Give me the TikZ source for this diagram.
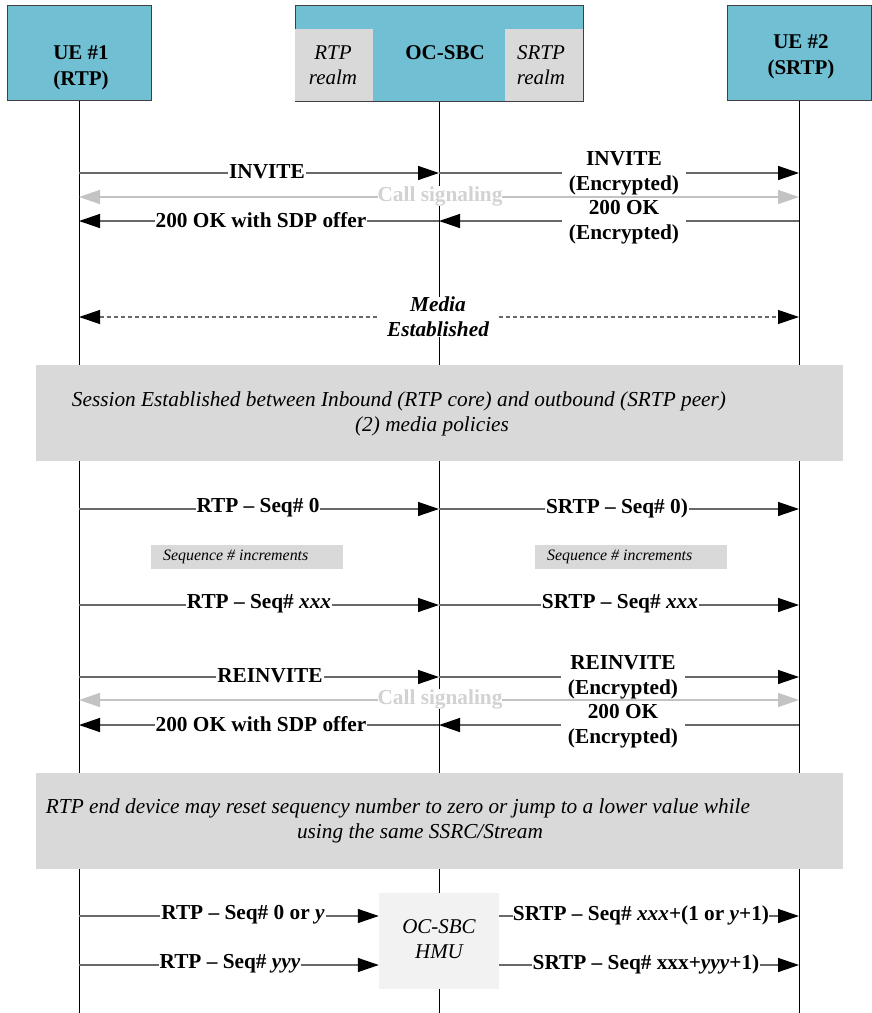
\documentclass[tikz,border=0pt]{standalone}
\usepackage{fontspec}
\setmainfont{Liberation Serif}
\usetikzlibrary{arrows.meta}
\definecolor{hdrblue}{RGB}{113,191,211}
\definecolor{bandgray}{RGB}{217,217,217}
\definecolor{hmugray}{RGB}{242,242,242}
\definecolor{linegray}{RGB}{105,105,105}
\definecolor{siggray}{RGB}{195,195,195}
\definecolor{sigtext}{RGB}{210,210,210}
\begin{document}
\begin{tikzpicture}[x=1pt,y=-1pt,
  hdr/.style={draw=black!75, line width=1pt, fill=hdrblue, inner sep=0pt},
  realm/.style={fill=bandgray, inner sep=0pt, minimum width=78pt, minimum height=72pt},
  htext/.style={font=\bfseries\fontsize{21}{26}\selectfont, align=center, inner sep=0pt},
  rtext/.style={font=\itshape\fontsize{21}{25}\selectfont, align=center, inner sep=0pt},
  life/.style={draw=black, line width=0.9pt},
  msg/.style={draw=linegray, line width=1.4pt, -{Triangle[length=21pt,width=14pt,color=black]}},
  sig/.style={draw=siggray, line width=1.4pt, {Triangle[length=21pt,width=14pt]}-{Triangle[length=21pt,width=14pt]}},
  media/.style={draw=linegray, line width=1.2pt, dash pattern=on 4pt off 3pt, {Triangle[length=21pt,width=14pt,color=black]}-{Triangle[length=21pt,width=14pt,color=black]}},
  lbl/.style={fill=white, inner xsep=1pt, inner ysep=0pt, font=\bfseries\fontsize{21.3}{25}\selectfont, align=center},
  siglbl/.style={fill=white, inner xsep=0pt, inner ysep=0pt, text=sigtext, font=\bfseries\fontsize{21.3}{25}\selectfont},
  band/.style={fill=bandgray, inner sep=0pt, minimum width=807pt, minimum height=96pt},
  bandtext/.style={font=\itshape\fontsize{21.3}{25}\selectfont, inner sep=0pt},
  incbox/.style={fill=bandgray, inner sep=0pt, minimum width=192pt, minimum height=24pt},
  inctext/.style={font=\itshape\fontsize{15.9}{18}\selectfont, inner sep=0pt, anchor=west},
]
\useasboundingbox (0,0) rectangle (872,1013);

% header boxes
\node[hdr, minimum width=144pt, minimum height=95pt] (ue1) at (79,52.5) {};
\node[hdr, minimum width=288pt, minimum height=96pt] (sbc) at (439,53) {};
\node[hdr, minimum width=144pt, minimum height=95pt] (ue2) at (799,52.5) {};
\node[realm] (rtprealm) at (334,65) {};
\node[realm] (srtprealm) at (544,65) {};
\node[htext] (ue1t) at (81,68) {UE \#1\\(RTP)};
\node[htext] (ue2t) at (801,57) {UE \#2\\(SRTP)};
\node[htext] (sbct) at (445,53) {OC-SBC};
\node[rtext] (rtprt) at (333,65) {RTP\\realm};
\node[rtext] (srtprt) at (541,65) {SRTP\\realm};

% lifelines
\coordinate (l1b) at (79,1013);
\coordinate (l2b) at (439,1013);
\coordinate (l3b) at (799,1013);
\draw[life] (ue1.south) -- (l1b);
\draw[life] (sbc.south) -- (l2b);
\draw[life] (ue2.south) -- (l3b);

% ---- initial call signaling
\coordinate (a1) at (79,173); \coordinate (a2) at (439,173); \coordinate (a3) at (799,173);
\coordinate (b1) at (79,197); \coordinate (b3) at (799,197);
\coordinate (c1) at (79,221); \coordinate (c2) at (439,221); \coordinate (c3) at (799,221);
\draw[msg] (a1) -- (a2);
\node[lbl] (inv1) at (267,172) {INVITE};
\draw[msg] (a2) -- (a3);
\draw[sig] (b1) -- (b3);
\node[siglbl] (sig1) at (440,196) {Call signaling};
\draw[msg] (c2) -- (c1);
\node[lbl] (ok1) at (261,220) {200 OK with SDP offer};
\draw[msg] (c3) -- (c2);
\node[lbl, inner xsep=7pt] (inv1e) at (624,173) {INVITE\\(Encrypted)};
\node[lbl, inner xsep=7pt] (ok1e) at (624,222) {200 OK\\(Encrypted)};

% ---- media established
\coordinate (m1) at (79,317); \coordinate (m3) at (799,317);
\draw[media] (m1) -- (m3);
\node[lbl, font=\bfseries\itshape\fontsize{21.3}{25}\selectfont, inner xsep=8pt] (medt) at (438,317) {Media\\Established};

% ---- band 1
\node[band] (band1) at (439.5,413) {};
\node[bandtext] (band1a) at (399,401) {Session Established between Inbound (RTP core) and outbound (SRTP peer)};
\node[bandtext] (band1b) at (432,426) {(2) media policies};

% ---- RTP seq 0
\coordinate (d1) at (79,509); \coordinate (d2) at (439,509); \coordinate (d3) at (799,509);
\draw[msg] (d1) -- (d2);
\node[lbl] (rtp0) at (258,508) {RTP -- Seq\# 0};
\draw[msg] (d2) -- (d3);
\node[lbl] (srtp0) at (617,508) {SRTP -- Seq\# 0)};

\node[incbox] (inc1) at (247,557) {};
\node[inctext] (inc1t) at (163,557) {Sequence \# increments};
\node[incbox] (inc2) at (631,557) {};
\node[inctext] (inc2t) at (547,557) {Sequence \# increments};

\coordinate (e1) at (79,605); \coordinate (e2) at (439,605); \coordinate (e3) at (799,605);
\draw[msg] (e1) -- (e2);
\node[lbl] (rtpx) at (259,604) {RTP -- Seq\# \textit{xxx}};
\draw[msg] (e2) -- (e3);
\node[lbl] (srtpx) at (620,604) {SRTP -- Seq\# \textit{xxx}};

% ---- reinvite
\coordinate (f1) at (79,677); \coordinate (f2) at (439,677); \coordinate (f3) at (799,677);
\coordinate (g1) at (79,700); \coordinate (g3) at (799,700);
\coordinate (h1) at (79,725); \coordinate (h2) at (439,725); \coordinate (h3) at (799,725);
\draw[msg] (f1) -- (f2);
\node[lbl] (reinv) at (270,676) {REINVITE};
\draw[msg] (f2) -- (f3);
\draw[sig] (g1) -- (g3);
\node[siglbl] (sig2) at (440,699) {Call signaling};
\draw[msg] (h2) -- (h1);
\node[lbl] (ok2) at (261,724) {200 OK with SDP offer};
\draw[msg] (h3) -- (h2);
\node[lbl, inner xsep=7pt] (reinve) at (623,677) {REINVITE\\(Encrypted)};
\node[lbl, inner xsep=7pt] (ok2e) at (623,726) {200 OK\\(Encrypted)};

% ---- band 2
\node[band] (band2) at (439.5,820.5) {};
\node[bandtext] (band2a) at (398,808) {RTP end device may reset sequency number to zero or jump to a lower value while};
\node[bandtext] (band2b) at (420,833) {using the same SSRC/Stream};

% ---- HMU
\node[fill=hmugray, inner sep=0pt, minimum width=120pt, minimum height=96pt] (hmu) at (439,941) {};
\node[rtext] (hmut) at (439,939) {OC-SBC\\HMU};
\coordinate (k1) at (79,916); \coordinate (k3) at (799,916);
\coordinate (n1) at (79,965); \coordinate (n3) at (799,965);
\draw[msg] (k1) -- (k1 -| hmu.west);
\node[lbl] (rtpy) at (243,915) {RTP -- Seq\# 0 or \textit{y}};
\draw[msg] (k1 -| hmu.east) -- (k3);
\node[lbl, inner xsep=0pt] (srtpy) at (641,915) {SRTP -- Seq\# \textit{xxx}+(1 or \textit{y}+1)};
\draw[msg] (n1) -- (n1 -| hmu.west);
\node[lbl] (rtpyy) at (230,964) {RTP -- Seq\# \textit{yyy}};
\draw[msg] (n1 -| hmu.east) -- (n3);
\node[lbl] (srtpyy) at (646,964) {SRTP -- Seq\# xxx+\textit{yyy}+1)};
\end{tikzpicture}
\end{document}
